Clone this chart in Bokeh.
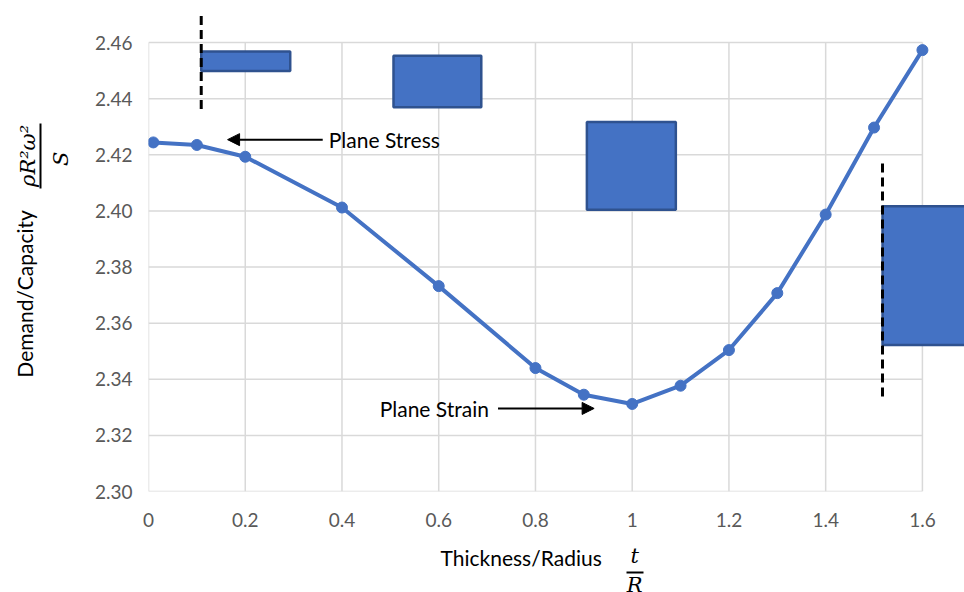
from bokeh.plotting import figure
from bokeh.models import Range1d, FixedTicker, Label, Arrow, NormalHead, LinearAxis
from bokeh.embed import file_html
from bokeh.resources import INLINE

# ---- data ----
thickness = [0.01, 0.1, 0.2, 0.4, 0.6, 0.8, 0.9, 1.0, 1.1, 1.2, 1.3, 1.4, 1.5, 1.6]
demand = [2.4244, 2.4235, 2.4193, 2.4012, 2.3732, 2.3440, 2.3345, 2.3312,
          2.3377, 2.3504, 2.3707, 2.3987, 2.4297, 2.4573]

x_ticks = [0, 0.2, 0.4, 0.6, 0.8, 1.0, 1.2, 1.4, 1.6]
x_tick_labels = ["0", "0.2", "0.4", "0.6", "0.8", "1", "1.2", "1.4", "1.6"]
y_ticks = [2.30, 2.32, 2.34, 2.36, 2.38, 2.40, 2.42, 2.44, 2.46]
y_tick_labels = ["2.30", "2.32", "2.34", "2.36", "2.38", "2.40", "2.42", "2.44", "2.46"]

# cross-section sketches (data coordinates)
rect_left = [0.109, 0.5065, 0.9063, 1.5175]
rect_right = [0.293, 0.688, 1.0902, 1.80]
rect_top = [2.4568, 2.4553, 2.4317, 2.4017]
rect_bottom = [2.4499, 2.4369, 2.4004, 2.3522]
dash_x = [0.109, 1.5175]
dash_top = [2.4702, 2.4172]
dash_bottom = [2.4363, 2.3339]

# axis-title pieces, positioned along the axes in data units
x_title = "Thickness/Radius"
x_title_at = 0.7704
x_frac_num, x_frac_den, x_frac_at = "t", "R", 1.005
x_frac_bar = (0.9875, 1.0227)
y_title = "Demand/Capacity"
y_title_at = 2.3704
y_frac_num, y_frac_den = "ρR²ω²", "S"
y_frac_num_at, y_frac_den_at = 2.4196, 2.4186
y_frac_bar = (2.4079, 2.4310)

BLUE = "#4472C4"
EDGE = "#2F528F"
GRID = "#D9D9D9"
TICK = "#595959"
SANS = "Lato"
MATH = "DejaVu Serif"
NBSP = "\u00a0"

FRAME_L, FRAME_B = 148, 491

p = figure(width=964, height=592, output_backend="svg", toolbar_location=None,
           x_range=Range1d(0, 1.687), y_range=Range1d(2.30, 2.30 + 491 / 2806.0),
           min_border_left=FRAME_L, min_border_right=0, min_border_top=0,
           min_border_bottom=592 - FRAME_B)
p.outline_line_color = None
p.background_fill_color = "white"
p.border_fill_color = "white"
p.xgrid.visible = False
p.ygrid.visible = False


def style(ax, font=SANS, size="19px", color=TICK, italic=False, standoff=0):
    ax.axis_line_color = None
    ax.major_tick_line_color = None
    ax.minor_tick_line_color = None
    ax.major_tick_out = 0
    ax.major_tick_in = 0
    ax.minor_tick_out = 0
    ax.minor_tick_in = 0
    ax.major_label_text_color = color
    ax.major_label_text_font = font
    ax.major_label_text_font_size = size
    ax.major_label_text_font_style = "italic" if italic else "normal"
    ax.major_label_standoff = standoff


def spacer(ax, standoff):
    ax.axis_label = NBSP
    ax.axis_label_text_font_size = "1px"
    ax.axis_label_standoff = standoff


# main axes
style(p.xaxis[0], standoff=21)
p.xaxis.ticker = FixedTicker(ticks=x_ticks)
p.xaxis.major_label_overrides = {t: l for t, l in zip(x_ticks, x_tick_labels)}
style(p.yaxis[0], standoff=16)
p.yaxis.ticker = FixedTicker(ticks=y_ticks)
p.yaxis.major_label_overrides = {t: l for t, l in zip(y_ticks, y_tick_labels)}

# x title: numerator t, then the text, then fraction bar + R
ax_t = LinearAxis(ticker=FixedTicker(ticks=[x_frac_at]), major_label_overrides={x_frac_at: x_frac_num})
style(ax_t, font=MATH, size="21px", color="black", italic=True, standoff=14)
p.add_layout(ax_t, "below")
ax_xt = LinearAxis(ticker=FixedTicker(ticks=[x_title_at]), major_label_overrides={x_title_at: x_title})
style(ax_xt, font=SANS, size="21px", color="black", standoff=-26)
p.add_layout(ax_xt, "below")
ax_r = LinearAxis(ticker=FixedTicker(ticks=[x_frac_at]), major_label_overrides={x_frac_at: x_frac_den},
                  bounds=x_frac_bar)
style(ax_r, font=MATH, size="21px", color="black", italic=True, standoff=0)
ax_r.axis_line_color = "black"
ax_r.axis_line_width = 2
spacer(ax_r, -18)
p.add_layout(ax_r, "below")

# y title: S, then fraction bar + numerator, then text
ax_s = LinearAxis(ticker=FixedTicker(ticks=[y_frac_den_at]), major_label_overrides={y_frac_den_at: y_frac_den})
style(ax_s, font=MATH, size="21px", color="black", italic=True, standoff=18)
ax_s.major_label_orientation = "vertical"
spacer(ax_s, 2)
p.add_layout(ax_s, "left")
ax_num = LinearAxis(ticker=FixedTicker(ticks=[y_frac_num_at]),
                    major_label_overrides={y_frac_num_at: y_frac_num}, bounds=y_frac_bar)
style(ax_num, font=MATH, size="21px", color="black", italic=True, standoff=0)
ax_num.major_label_orientation = "vertical"
ax_num.axis_line_color = "black"
ax_num.axis_line_width = 2
p.add_layout(ax_num, "left")
ax_yt = LinearAxis(ticker=FixedTicker(ticks=[y_title_at]), major_label_overrides={y_title_at: y_title})
style(ax_yt, font=SANS, size="21px", color="black", standoff=-24)
ax_yt.major_label_orientation = "vertical"
p.add_layout(ax_yt, "left")

# gridlines limited to the data area
p.segment(x0=x_ticks, x1=x_ticks, y0=[y_ticks[0]] * len(x_ticks), y1=[y_ticks[-1]] * len(x_ticks),
          line_color=GRID, line_width=1.5)
p.segment(x0=[x_ticks[0]] * len(y_ticks), x1=[x_ticks[-1]] * len(y_ticks), y0=y_ticks, y1=y_ticks,
          line_color=GRID, line_width=1.5)

# rectangles
p.quad(left=rect_left, right=rect_right, top=rect_top, bottom=rect_bottom,
       fill_color=BLUE, line_color=EDGE, line_width=2.5)
# dashed lines
p.segment(x0=dash_x, x1=dash_x, y0=dash_bottom, y1=dash_top,
          line_color="black", line_width=3, line_dash="9 5")

# series
p.line(thickness, demand, line_color=BLUE, line_width=4)
p.scatter(thickness, demand, size=11, fill_color=BLUE, line_color=BLUE)

# annotations
p.add_layout(Arrow(end=NormalHead(size=12, fill_color="black", line_color="black"),
                   x_start=0.3602, y_start=2.4254, x_end=0.1635, y_end=2.4254,
                   line_color="black", line_width=2))
p.add_layout(Label(x=0.3727, y=2.4254, text="Plane Stress", text_font=SANS,
                   text_font_size="21px", text_color="black", text_baseline="middle"))
p.add_layout(Arrow(end=NormalHead(size=12, fill_color="black", line_color="black"),
                   x_start=0.7226, y_start=2.3296, x_end=0.9213, y_end=2.3296,
                   line_color="black", line_width=2))
p.add_layout(Label(x=0.478, y=2.3296, text="Plane Strain", text_font=SANS,
                   text_font_size="21px", text_color="black", text_baseline="middle"))

open("out.html", "w").write(file_html(p, INLINE))
